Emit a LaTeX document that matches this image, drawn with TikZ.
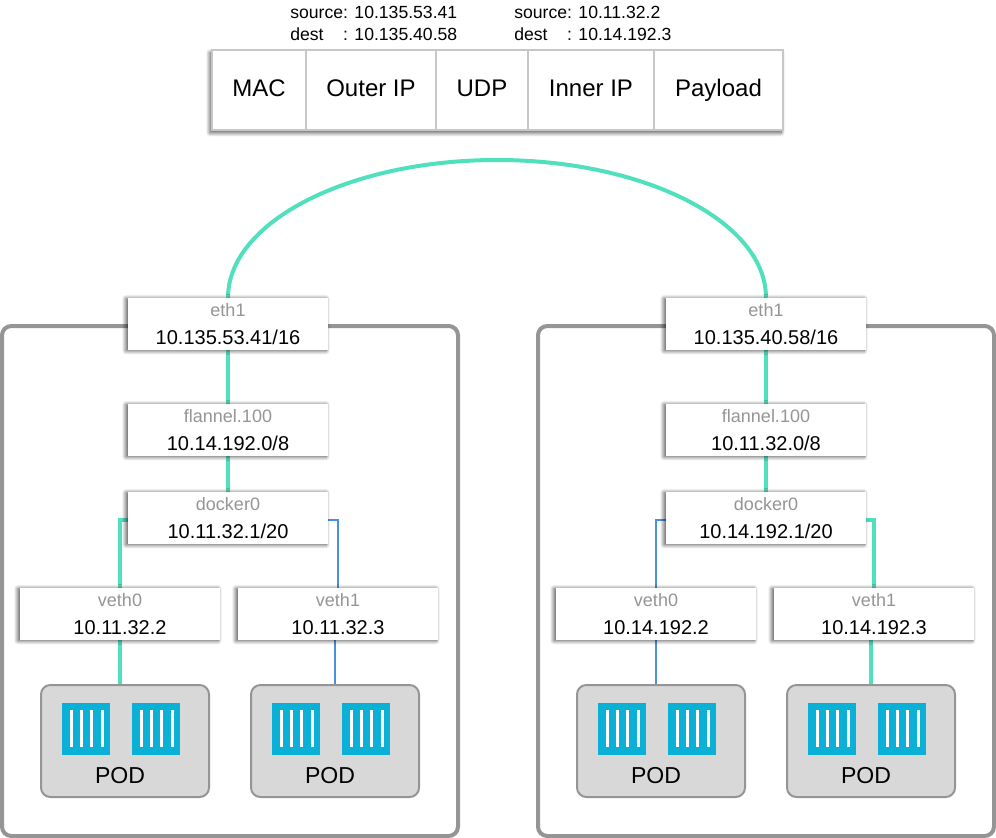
\documentclass[tikz,border=0pt]{standalone}
\usepackage{fontspec}
\setmainfont{Liberation Sans}
\usepackage{xcolor}
\usetikzlibrary{positioning, calc, fit, backgrounds, shadows, shadows.blur}

\definecolor{wanteal}{HTML}{50E0BE}
\definecolor{vethblue}{HTML}{4A90E2}
\definecolor{crateblue}{HTML}{0BB0D6}
\definecolor{podfill}{HTML}{D8D8D8}
\definecolor{softgray}{HTML}{959595}

\newcommand{\ifname}[1]{{\color{softgray}\fontsize{13.5}{21.5}\selectfont #1}}

\begin{document}
\begin{tikzpicture}[
  x=0.75pt, y=-0.75pt,
  hdrcell/.style={draw=black!22, line width=1pt, minimum height=60pt, inner sep=0pt, outer sep=0pt,
                  text height=15.5pt, text depth=5pt, font=\fontsize{18}{21}\selectfont},
  hdrback/.style={fill=white, inner sep=0pt,
                  blur shadow={shadow xshift=-1.5pt, shadow yshift=-2pt, shadow blur steps=12,
                               shadow blur radius=3pt, shadow opacity=70}},
  hdrnote/.style={anchor=west, align=left, inner sep=0pt,
                  font=\fontsize{13.2}{16.5}\selectfont},
  iface/.style={fill=white, minimum width=150pt, minimum height=39pt, inner sep=0pt,
                align=center, font=\fontsize{15}{21.5}\selectfont,
                blur shadow={shadow xshift=-1.5pt, shadow yshift=-0.5pt, shadow blur steps=12,
                             shadow blur radius=3pt, shadow opacity=70}},
  host/.style={draw=softgray, line width=3pt, rounded corners=7pt,
               minimum width=342pt, minimum height=382.5pt},
  pod/.style={draw=softgray, fill=podfill, line width=1.5pt, rounded corners=7pt,
              minimum width=126pt, minimum height=84pt, inner sep=0pt,
              text height=64pt, text depth=0pt, font=\fontsize{17.3}{21}\selectfont,
              execute at end node=\hspace{7.5pt}},
  flow/.style={wanteal, line width=3pt},
  idle/.style={vethblue, line width=1.5pt},
  pics/crate/.style={code={
    \fill[crateblue] (0,0) rectangle (48,52);
    \foreach \barx in {8,18.2,28.5,38.8}
      \fill[white] (\barx,7) rectangle ++(3,37);
  }},
]
\useasboundingbox (0,0) rectangle (996,838);

% Packet header
\node[hdrcell, minimum width=70.5pt] (hdrMac) at (259,90) {MAC};
\node[hdrcell, minimum width=97.5pt, right=0pt of hdrMac] (hdrOuter) {Outer IP};
\node[hdrcell, minimum width=69pt, right=0pt of hdrOuter] (hdrUdp) {UDP};
\node[hdrcell, minimum width=94.5pt, right=0pt of hdrUdp] (hdrInner) {Inner IP};
\node[hdrcell, minimum width=96.75pt, right=0pt of hdrInner] (hdrPayload) {Payload};

\node[hdrnote] (noteOuter) at (290,23) {source: 10.135.53.41\\dest~~~~: 10.135.40.58};
\node[hdrnote] (noteInner) at (514,23) {source: 10.11.32.2\\dest~~~~: 10.14.192.3};

% Left host
\node[iface] (ethL) at (228,324) {\ifname{eth1}\\10.135.53.41/16};
\node[iface] (flannelL) at (228,430) {\ifname{flannel.100}\\10.14.192.0/8};
\node[iface] (dockerL) at (228,518) {\ifname{docker0}\\10.11.32.1/20};
\node[iface] (vethLa) at (120,614) {\ifname{veth0}\\10.11.32.2};
\node[iface] (vethLb) at (338,614) {\ifname{veth1}\\10.11.32.3};
\node[pod] (podLa) at (125,741) {POD};
\node[pod] (podLb) at (335,741) {POD};

% Right host
\node[iface] (ethR) at (766,324) {\ifname{eth1}\\10.135.40.58/16};
\node[iface] (flannelR) at (766,430) {\ifname{flannel.100}\\10.11.32.0/8};
\node[iface] (dockerR) at (766,518) {\ifname{docker0}\\10.14.192.1/20};
\node[iface] (vethRa) at (656,614) {\ifname{veth0}\\10.14.192.2};
\node[iface] (vethRb) at (874,614) {\ifname{veth1}\\10.14.192.3};
\node[pod] (podRa) at (661,741) {POD};
\node[pod] (podRb) at (871,741) {POD};

% Containers in each pod
\foreach \podname in {podLa,podLb,podRa,podRb} {
  \pic at ($(\podname.north west)+(21.7,19)$) {crate};
  \pic at ($(\podname.north west)+(91.7,19)$) {crate};
}

\begin{scope}[on background layer]
  \node[hdrback, fit=(hdrMac)(hdrPayload)] (hdrShade) {};
  \node[host] (hostL) at (230,581) {};
  \node[host] (hostR) at (766,581) {};

  % Overlay link between the hosts
  \coordinate (wanTop) at (497,160);
  \draw[flow] (ethL.north)
    .. controls ($(ethL.north)+(0,-76)$) and ($(wanTop)+(-148,0)$) .. (wanTop)
    .. controls ($(wanTop)+(148,0)$) and ($(ethR.north)+(0,-76)$) .. (ethR.north);

  % Left links
  \draw[flow] (ethL) -- (flannelL);
  \draw[flow] (flannelL) -- (dockerL);
  \draw[flow] ([yshift=-1.5pt]dockerL.west) -| (vethLa.north);
  \draw[idle] ([yshift=-1.5pt]dockerL.east) -| (vethLb.north);
  \draw[flow] (vethLa.south) -- (vethLa.south |- podLa.north);
  \draw[idle] (podLb.north |- vethLb.south) -- (podLb.north);

  % Right links
  \draw[flow] (ethR) -- (flannelR);
  \draw[flow] (flannelR) -- (dockerR);
  \draw[idle] ([yshift=-1.5pt]dockerR.west) -| (vethRa.north);
  \draw[flow] ([yshift=-1.5pt]dockerR.east) -| (vethRb.north);
  \draw[idle] (vethRa.south) -- (vethRa.south |- podRa.north);
  \draw[flow] (podRb.north |- vethRb.south) -- (podRb.north);
\end{scope}
\end{tikzpicture}
\end{document}
